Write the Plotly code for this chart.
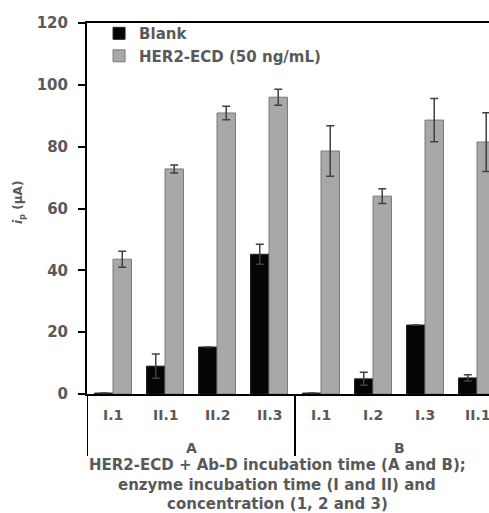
import plotly.graph_objects as go

categories = ["I.1", "II.1", "II.2", "II.3", "I.1", "I.2", "I.3", "II.1"]
groups = ["A", "B"]
blank = [0.3, 9.0, 15.2, 45.2, 0.3, 4.9, 22.3, 5.2]
blank_err = [0, 3.9, 0, 3.2, 0, 2.1, 0, 1.0]
her2 = [43.6, 72.8, 90.9, 96.0, 78.6, 64.0, 88.6, 81.5]
her2_err = [2.6, 1.3, 2.2, 2.6, 8.2, 2.4, 7.0, 9.5]
yticks = [0, 20, 40, 60, 80, 100, 120]
title_lines = ["HER2-ECD + Ab-D incubation time (A and B);",
               "enzyme incubation time (I and II) and",
               "concentration (1, 2 and 3)"]

FONT = "DejaVu Sans"
TC = "#595959"
W, H = 489, 513
L, R, T, B = 87, 0, 23, 119
PW, PH = W - L - R, H - T - B

xs = list(range(len(categories)))
fig = go.Figure()
fig.add_trace(go.Bar(
    x=xs, y=blank, name="<b>Blank</b>",
    marker=dict(color="#050505", line=dict(color="#202020", width=1)),
    error_y=dict(type="data", array=blank_err, color="#404040", thickness=1.5, width=4),
))
fig.add_trace(go.Bar(
    x=xs, y=her2, name="<b>HER2-ECD (50 ng/mL)</b>",
    marker=dict(color="#a8a8a8", line=dict(color="#7a7a7a", width=1)),
    error_y=dict(type="data", array=her2_err, color="#404040", thickness=1.5, width=4),
))

shapes = []
for xv in [-0.5, 3.5]:
    shapes.append(dict(type="line", xref="x", yref="paper", x0=xv, x1=xv, y0=0, y1=-(456 - 394) / PH,
                       line=dict(color="#000000", width=2)))

annotations = []
# category labels drawn as annotations so the last, edge-cut label is still shown
for i, c in enumerate(categories):
    annotations.append(dict(x=xs[i], y=-(415 - 394) / PH, xref="x", yref="paper",
                            text="<b>%s</b>" % c, showarrow=False, yanchor="middle", xanchor="center",
                            font=dict(family=FONT, size=14, color=TC)))
for i, g in enumerate(groups):
    annotations.append(dict(x=1.5 + 4 * i, y=-(448 - 394) / PH, xref="x", yref="paper",
                            text="<b>%s</b>" % g, showarrow=False, yanchor="middle",
                            font=dict(family=FONT, size=14, color=TC)))
for k, line in enumerate(title_lines):
    annotations.append(dict(x=(277 - L) / PW, y=-(465 - 394 + 19.5 * k) / PH, xref="paper", yref="paper",
                            text="<b>%s</b>" % line, showarrow=False, yanchor="middle", xanchor="center",
                            font=dict(family=FONT, size=15, color=TC)))
annotations.append(dict(x=-(L - 19) / PW, y=(394 - 203) / PH, xref="paper", yref="paper",
                        text="<b><i>i</i><sub>p</sub> (μA)</b>", textangle=-90, showarrow=False,
                        xanchor="center", yanchor="middle",
                        font=dict(family=FONT, size=12, color=TC)))

fig.update_layout(
    width=W, height=H,
    margin=dict(l=L, r=R, t=T, b=B),
    paper_bgcolor="white", plot_bgcolor="white",
    barmode="group", bargap=0.29, bargroupgap=0,
    showlegend=True,
    legend=dict(x=0.03, y=1.016, xanchor="left", yanchor="top", bgcolor="rgba(0,0,0,0)",
                font=dict(family=FONT, size=15, color=TC), tracegroupgap=0, itemwidth=30),
    shapes=shapes, annotations=annotations,
    font=dict(family=FONT, color=TC),
)
fig.update_xaxes(range=[-0.5, PW / 52 - 0.5], tickmode="array",
                 tickvals=xs, showticklabels=False,
                 showline=True, linecolor="#000000", linewidth=2, mirror=True,
                 ticks="", showgrid=False, zeroline=False)
fig.update_yaxes(range=[0, 120], tickvals=yticks, ticktext=["<b>%d</b>" % v for v in yticks],
                 tickfont=dict(family=FONT, size=15, color=TC), ticklabelstandoff=7,
                 showline=True, linecolor="#000000", linewidth=2,
                 ticks="outside", ticklen=7, tickcolor="#000000", tickwidth=1.5,
                 showgrid=False, zeroline=False)

fig.write_html("out.html", config={"displayModeBar": False},
               post_script="document.body.style.margin='0';document.body.style.overflow='hidden';")
